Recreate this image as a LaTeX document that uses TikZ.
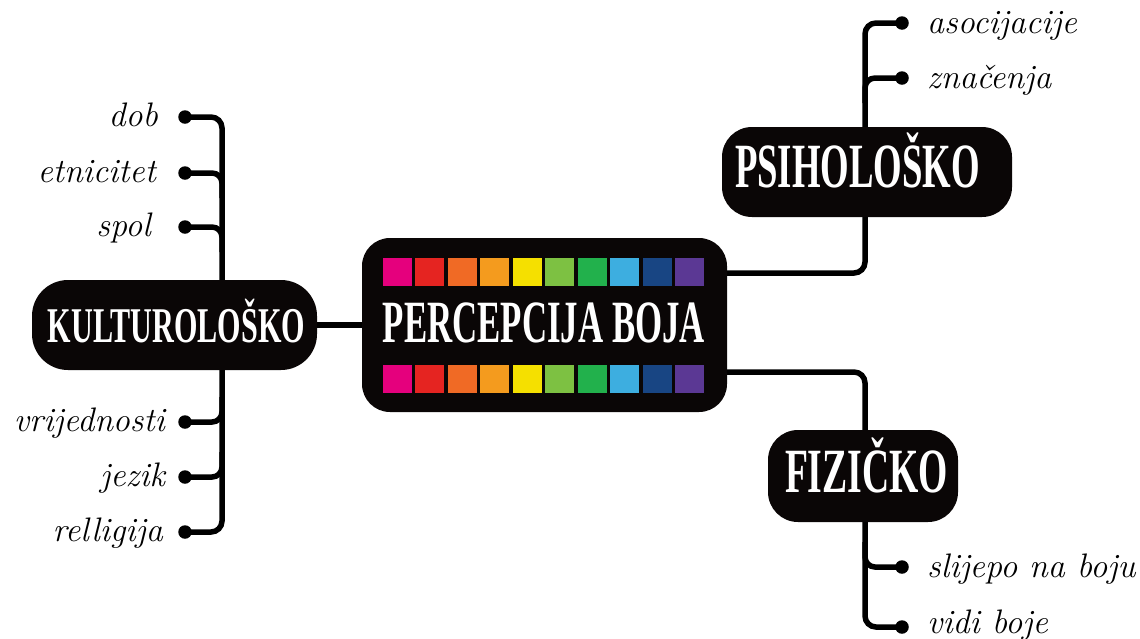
\documentclass[tikz,border=0pt]{standalone}
\usepackage{fontspec}
\usepackage{graphicx}
\newfontfamily\boxfont{Liberation Serif}
\definecolor{boxblack}{HTML}{0A0606}
\definecolor{c1}{HTML}{E5007D}
\definecolor{c2}{HTML}{E52421}
\definecolor{c3}{HTML}{F06A25}
\definecolor{c4}{HTML}{F49B1E}
\definecolor{c5}{HTML}{F5E000}
\definecolor{c6}{HTML}{7DC142}
\definecolor{c7}{HTML}{22B14C}
\definecolor{c8}{HTML}{3DAEE0}
\definecolor{c9}{HTML}{184583}
\definecolor{c10}{HTML}{5B3894}
\tikzset{
  conn/.style={line width=5.5pt, black},
  brbox/.style={draw=none, fill=boxblack, rectangle, inner sep=0pt},
  boxtext/.style={text=white, inner sep=0pt, anchor=base},
  lbl/.style={inner sep=0pt, font=\itshape\fontsize{34}{34}\selectfont\addfontfeature{FakeBold=0.6}},
  dotstyle/.style={circle, fill=black, inner sep=0pt, minimum size=13.5pt}
}
\begin{document}
\begin{tikzpicture}[x=1pt,y=-1pt]
\useasboundingbox (0,0) rectangle (1140,638);
% --- named points
\coordinate (dob) at (185,117);
\coordinate (etn) at (185,173);
\coordinate (spo) at (185,227);
\coordinate (vri) at (185,422);
\coordinate (jez) at (185,477);
\coordinate (rel) at (185,532);
\coordinate (aso) at (902,23);
\coordinate (zna) at (902,78);
\coordinate (sli) at (902,567);
\coordinate (vid) at (902,627);
\coordinate (kt) at (222,117);
\coordinate (kb) at (222,532);
\coordinate (pt) at (865,23);
\coordinate (pb) at (865,273);
\coordinate (ft) at (865,372);
\coordinate (fb) at (865,627);
\coordinate (cr1) at (727,273);
\coordinate (cr2) at (727,372);
% --- connectors
\draw[conn, rounded corners=11pt] (dob) -- (kt) -- (kb) -- (rel);
\draw[conn, rounded corners=10pt] (etn) -- (222,173) -- (222,198);
\draw[conn, rounded corners=10pt] (spo) -- (222,227) -- (222,252);
\draw[conn, rounded corners=10pt] (vri) -- (222,422) -- (222,397);
\draw[conn, rounded corners=10pt] (jez) -- (222,477) -- (222,452);
\draw[conn, rounded corners=11pt] (aso) -- (pt) -- (pb) -- (cr1);
\draw[conn, rounded corners=10pt] (zna) -- (865,78) -- (865,103);
\draw[conn, rounded corners=11pt] (cr2) -- (ft) -- (fb) -- (vid);
\draw[conn, rounded corners=10pt] (sli) -- (865,567) -- (865,542);
\foreach \p in {dob,etn,spo,vri,jez,rel,aso,zna,sli,vid}
  \node[dotstyle] (dot-\p) at (\p) {};
% --- boxes
\node[brbox, minimum width=285pt, minimum height=90pt, rounded corners=36pt] (kult) at (174.5,325) {};
\node[brbox, minimum width=290pt, minimum height=90pt, rounded corners=30pt] (psih) at (867,172) {};
\node[brbox, minimum width=190pt, minimum height=92pt, rounded corners=30pt] (fiz) at (863,476) {};
\node[brbox, minimum width=365pt, minimum height=174pt, rounded corners=28pt] (cen) at (544.5,325) {};
\draw[conn] (kult.east) -- (cen.west);
% --- colour squares
\foreach \i in {1,...,10} {
  \fill[c\i] ({383+(\i-1)*32.45},258) rectangle ++(29,28);
  \fill[c\i] ({383+(\i-1)*32.45},365) rectangle ++(29,28);
}
% --- box texts
\node[boxtext] (cent) at (544,342) {\boxfont\bfseries\fontsize{60}{60}\selectfont\resizebox{322pt}{\height}{PERCEPCIJA BOJA}};
\node[boxtext] (kultt) at (176.5,342) {\boxfont\bfseries\fontsize{50}{50}\selectfont\resizebox{257pt}{\height}{KULTUROLOŠKO}};
\node[boxtext] (psiht) at (857.5,187) {\boxfont\bfseries\fontsize{63}{63}\selectfont\resizebox{245pt}{\height}{PSIHOLOŠKO}};
\node[boxtext] (fizt) at (866.5,492) {\boxfont\bfseries\fontsize{63}{63}\selectfont\resizebox{163pt}{\height}{FIZIČKO}};
% --- labels
\node[lbl, anchor=base east] (l-dob) at (158,126) {dob};
\node[lbl, anchor=base east] (l-etn) at (156,182) {etnicitet};
\node[lbl, anchor=base east] (l-spo) at (151,236) {spol};
\node[lbl, anchor=base east] (l-vri) at (165,431) {vrijednosti};
\node[lbl, anchor=base east] (l-jez) at (165,486) {jezik};
\node[lbl, anchor=base east] (l-rel) at (163,541) {relligija};
\node[lbl, anchor=base west] (l-aso) at (927,33) {asocijacije};
\node[lbl, anchor=base west] (l-zna) at (927,88) {značenja};
\node[lbl, anchor=base west] (l-sli) at (927,577) {slijepo na boju};
\node[lbl, anchor=base west] (l-vid) at (927,633) {vidi boje};
\end{tikzpicture}
\end{document}
